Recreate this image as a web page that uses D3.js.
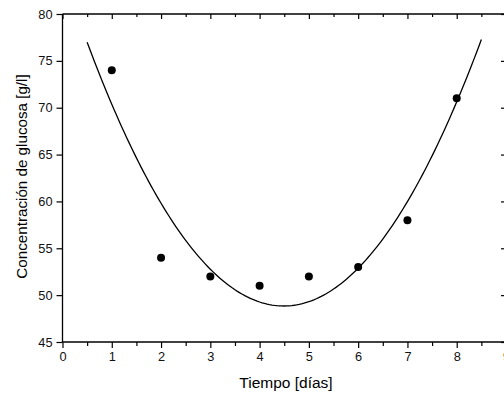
<!DOCTYPE html>
<meta charset="utf-8">
<script src="https://d3js.org/d3.v7.min.js"></script>
<style>
  body { margin: 0; background: #fff; }
  text { font-family: "Liberation Sans", Arial, sans-serif; }
</style>
<div id="chart"></div>
<script>
    // data
    var dias = [1, 2, 3, 4, 5, 6, 7, 8]
    var glucosa = [74, 54, 52, 51, 52, 53, 58, 71]
    var xTicks = [0, 1, 2, 3, 4, 5, 6, 7, 8, 9]
    var yTicks = [45, 50, 55, 60, 65, 70, 75, 80]
    var fitRange = [0.5, 8.5]

    var width = 504, height = 394

    var svg = d3.select("#chart").append("svg")
        .attr("width", width)
        .attr("height", height)

    var x = d3.scaleLinear().domain([0, 9]).range([62.5, 506])
    var y = d3.scaleLinear().domain([45, 80]).range([342, 14])

    // quadratic least squares fit of the points (like the original plot)
    function quadFit(xs, ys) {
        var s = [0,0,0,0,0], t = [0,0,0]
        xs.forEach(function(xv, i) {
            for (var k = 0; k < 5; k++) s[k] += Math.pow(xv, k)
            for (var k = 0; k < 3; k++) t[k] += ys[i] * Math.pow(xv, k)
        })
        var A = [[s[0], s[1], s[2], t[0]], [s[1], s[2], s[3], t[1]], [s[2], s[3], s[4], t[2]]]
        for (var i = 0; i < 3; i++) {
            for (var j = i + 1; j < 3; j++) {
                var f = A[j][i] / A[i][i]
                for (var k = i; k < 4; k++) A[j][k] -= f * A[i][k]
            }
        }
        var c = [0, 0, 0]
        for (var i = 2; i >= 0; i--) {
            var v = A[i][3]
            for (var k = i + 1; k < 3; k++) v -= A[i][k] * c[k]
            c[i] = v / A[i][i]
        }
        return function(xv) { return c[0] + c[1] * xv + c[2] * xv * xv }
    }
    var fit = quadFit(dias, glucosa)
    var curve = d3.range(fitRange[0], fitRange[1] + 0.001, 0.05).map(function(d) { return [d, fit(d)] })

    var fmt = d3.format("d")
    var minorX = d3.range(0.5, 9, 1)

    // bottom axis
    var axBottom = svg.append("g").attr("transform", "translate(0," + y(45) + ")")
    axBottom.call(d3.axisBottom(x).tickValues(xTicks).tickFormat(fmt).tickSize(6).tickPadding(4))
    axBottom.append("g").call(d3.axisBottom(x).tickValues(minorX).tickFormat("").tickSize(4))

    // top axis, ticks inward
    var axTop = svg.append("g").attr("transform", "translate(0," + y(80) + ")")
    axTop.call(d3.axisBottom(x).tickValues(xTicks).tickFormat("").tickSize(5))
    axTop.append("g").call(d3.axisBottom(x).tickValues(minorX).tickFormat("").tickSize(3))

    // left axis
    var axLeft = svg.append("g").attr("transform", "translate(" + x(0) + ",0)")
    axLeft.call(d3.axisLeft(y).tickValues(yTicks).tickFormat(fmt).tickSize(6).tickPadding(4))

    // right axis, ticks inward
    var axRight = svg.append("g").attr("transform", "translate(" + x(9) + ",0)")
    axRight.call(d3.axisLeft(y).tickValues(yTicks).tickFormat("").tickSize(5))

    svg.selectAll("g g .domain").remove()
    axBottom.select(".domain").attr("d", "M" + x(0) + ",0H" + x(9))
    axTop.select(".domain").attr("d", "M" + x(0) + ",0H" + x(9))
    axLeft.select(".domain").attr("d", "M0," + y(45) + "V" + y(80))
    axRight.select(".domain").attr("d", "M0," + y(45) + "V" + y(80))
    svg.selectAll(".domain").attr("stroke-width", 1.3)
    svg.selectAll(".tick line").attr("stroke-width", 1.2)
    svg.selectAll(".tick text")
        .attr("font-size", 12.8)
        .attr("font-family", "Liberation Sans, Arial, sans-serif")
        .attr("fill", "#111")

    // fitted curve
    svg.append("path")
        .datum(curve)
        .attr("fill", "none")
        .attr("stroke", "#000")
        .attr("stroke-width", 1.3)
        .attr("d", d3.line().x(function(d) { return x(d[0]) }).y(function(d) { return y(d[1]) }))

    // points
    svg.selectAll("circle.pt")
        .data(dias)
        .enter().append("circle")
        .attr("class", "pt")
        .attr("cx", function(d) { return x(d) })
        .attr("cy", function(d, i) { return y(glucosa[i]) })
        .attr("r", 4)
        .attr("fill", "#000")

    // axis titles
    svg.append("text")
        .attr("x", 286).attr("y", 388)
        .attr("text-anchor", "middle")
        .attr("font-size", 15.5)
        .text("Tiempo [días]")

    svg.append("text")
        .attr("transform", "translate(26.5," + 176.5 + ") rotate(-90)")
        .attr("text-anchor", "middle")
        .attr("font-size", 15.2)
        .text("Concentración de glucosa [g/l]")
</script>
